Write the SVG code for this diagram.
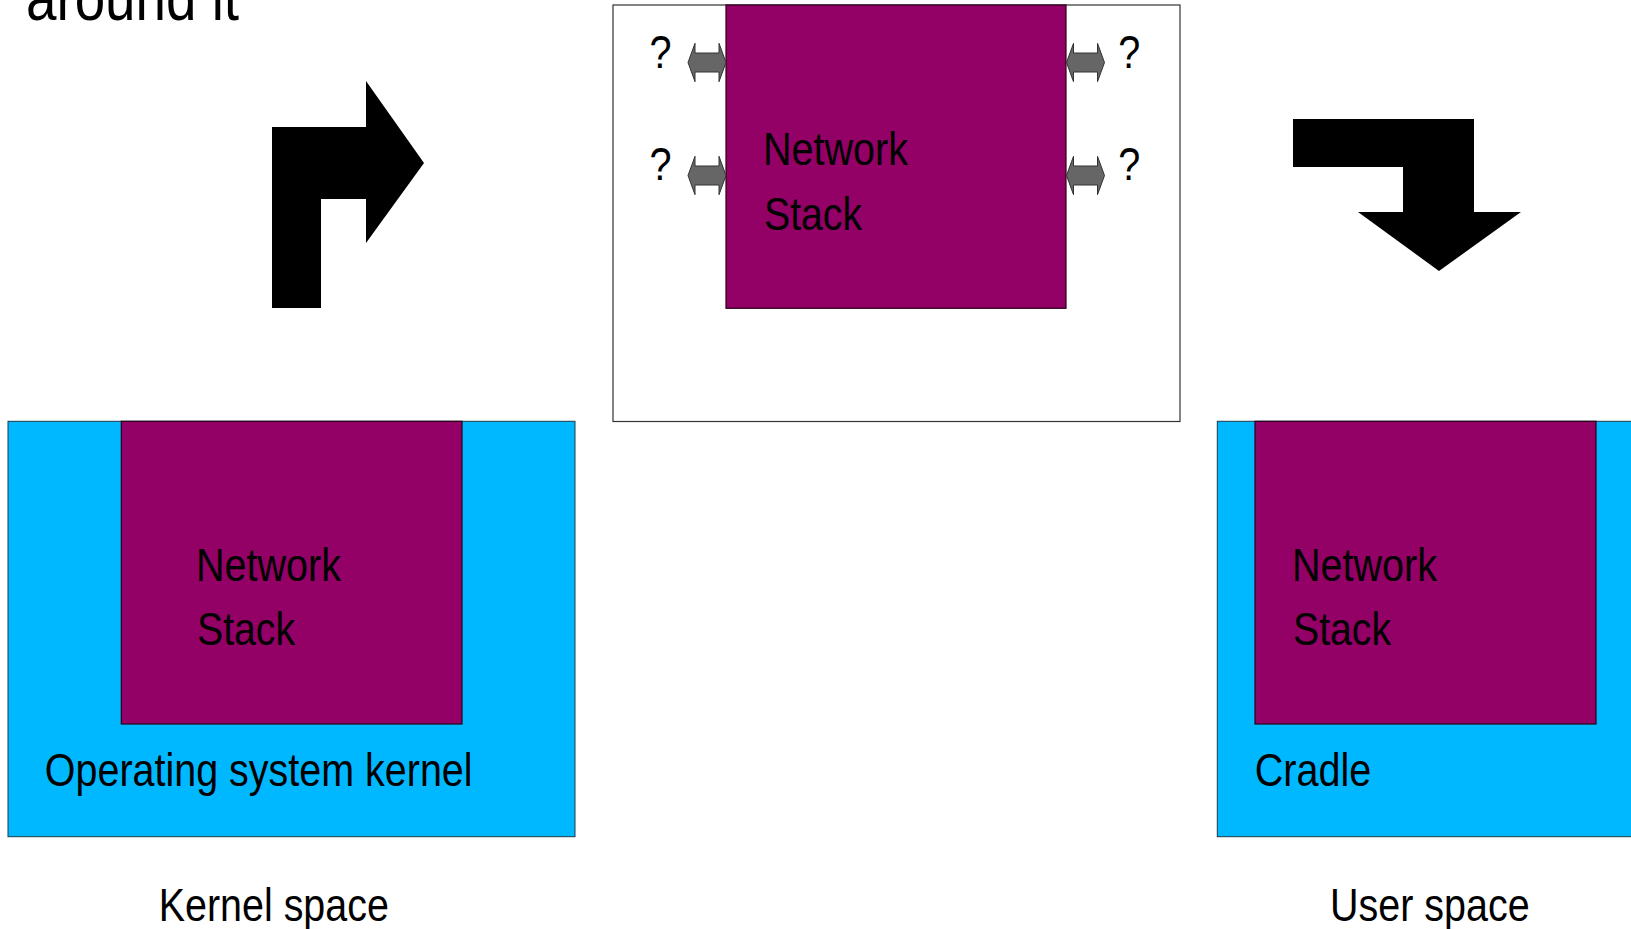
<svg xmlns="http://www.w3.org/2000/svg" width="1631" height="929" viewBox="0 0 1631 929">
<style>
text { font-family: "Liberation Sans", Arial, sans-serif; fill: #000; }
.lbl { font-size: 46.5px; }
.title { font-size: 64px; }
.blue { fill: #00b8ff; stroke: #1a3a4a; stroke-width: 1; }
.purple { fill: #930066; stroke: #2a0018; stroke-width: 1.2; }
.frame { fill: #ffffff; stroke: #333333; stroke-width: 1.2; }
.big { fill: #000000; }
.dbl { fill: #666666; stroke: #333333; stroke-width: 1; }
</style>
<defs>
<path id="dblArrow" class="dbl" d="M0,0 L7,-19.2 L7,-9.5 L31,-9.5 L31,-19.2 L38,0 L31,19.2 L31,9.5 L7,9.5 L7,19.2 Z"/>
</defs>
<rect x="0" y="0" width="1631" height="929" fill="#ffffff"/>

<g id="title">
<text class="title" x="26" y="20" textLength="213" lengthAdjust="spacingAndGlyphs">around it</text>
</g>

<g id="arrow-turn-right">
<polygon class="big" points="272,308 272,127 366,127 366,81 424,163 366,243 366,199 321,199 321,308"/>
</g>

<g id="arrow-turn-down">
<polygon class="big" points="1293,119 1474,119 1474,212 1521,212 1439,271 1358,212 1403,212 1403,167 1293,167"/>
</g>

<g id="node-middle">
<rect class="frame" x="613" y="5" width="567" height="416.5"/>
<rect class="purple" x="726" y="5" width="340" height="303.3"/>
<text class="lbl" x="763" y="165" textLength="145" lengthAdjust="spacingAndGlyphs">Network</text>
<text class="lbl" x="764" y="229.5" textLength="98" lengthAdjust="spacingAndGlyphs">Stack</text>
<text class="lbl" x="649.6" y="68.3" textLength="22" lengthAdjust="spacingAndGlyphs">?</text>
<text class="lbl" x="649.6" y="180" textLength="22" lengthAdjust="spacingAndGlyphs">?</text>
<text class="lbl" x="1118.3" y="68.3" textLength="22" lengthAdjust="spacingAndGlyphs">?</text>
<text class="lbl" x="1118.3" y="180" textLength="22" lengthAdjust="spacingAndGlyphs">?</text>
</g>

<g id="connectors">
<use href="#dblArrow" x="688" y="62.5"/>
<use href="#dblArrow" x="688" y="175.5"/>
<use href="#dblArrow" x="1066.5" y="62.5"/>
<use href="#dblArrow" x="1066.5" y="175.5"/>
</g>

<g id="node-kernel">
<rect class="blue" x="8" y="421.3" width="567" height="415.4"/>
<rect class="purple" x="121.3" y="421.3" width="340.7" height="302.7"/>
<text class="lbl" x="196" y="581" textLength="145" lengthAdjust="spacingAndGlyphs">Network</text>
<text class="lbl" x="197" y="645" textLength="98" lengthAdjust="spacingAndGlyphs">Stack</text>
<text class="lbl" x="44.8" y="786" textLength="427.8" lengthAdjust="spacingAndGlyphs">Operating system kernel</text>
</g>

<g id="label-kernel-space">
<text class="lbl" x="158.8" y="920.7" textLength="230" lengthAdjust="spacingAndGlyphs">Kernel space</text>
</g>

<g id="node-cradle">
<rect class="blue" x="1217.3" y="421.3" width="567" height="415.4"/>
<rect class="purple" x="1255" y="421.3" width="341" height="302.7"/>
<text class="lbl" x="1292" y="581" textLength="145" lengthAdjust="spacingAndGlyphs">Network</text>
<text class="lbl" x="1293" y="645" textLength="98" lengthAdjust="spacingAndGlyphs">Stack</text>
<text class="lbl" x="1254.7" y="786" textLength="116.5" lengthAdjust="spacingAndGlyphs">Cradle</text>
</g>

<g id="label-user-space">
<text class="lbl" x="1330" y="920.7" textLength="199.6" lengthAdjust="spacingAndGlyphs">User space</text>
</g>
</svg>
